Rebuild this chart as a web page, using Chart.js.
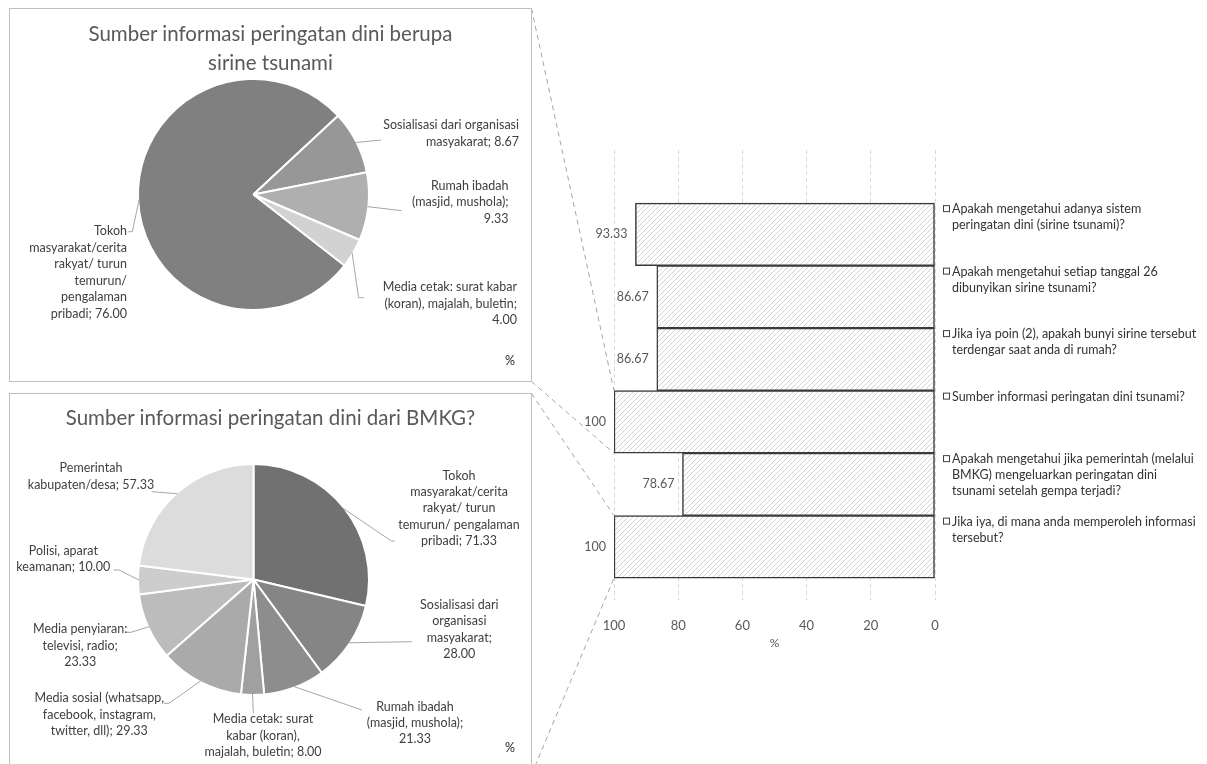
<!DOCTYPE html>
<html>
<head>
<meta charset="utf-8">
<script src="https://cdn.jsdelivr.net/npm/chart.js@4.4.1/dist/chart.umd.min.js"></script>
<style>
html,body{margin:0;padding:0;background:#fff;overflow:hidden;width:1207px;height:764px;}
#barCanvas{position:absolute;left:0;top:0;}
.box{position:absolute;left:9px;width:521px;border:1px solid #bfbfbf;}
#box1{top:8px;height:372px;}
#box2{top:393px;height:380px;}
.box canvas{position:absolute;left:0;top:0;}
.title{position:absolute;left:0;width:100%;text-align:center;font-family:Lato,sans-serif;font-size:20.5px;color:#595959;line-height:29px;}
.pct{position:absolute;font-family:Lato,sans-serif;font-size:12.5px;color:#262626;}
</style>
</head>
<body>
<canvas id="barCanvas" width="1207" height="764"></canvas>
<div class="box" id="box1">
  <canvas id="pie1" width="521" height="372"></canvas>
  <div class="title" style="top:9.5px">Sumber informasi peringatan dini berupa<br>sirine tsunami</div>
  <div class="pct" style="left:495px;top:344px">%</div>
</div>
<div class="box" id="box2">
  <canvas id="pie2" width="521" height="380"></canvas>
  <div class="title" style="top:8.5px">Sumber informasi peringatan dini dari BMKG?</div>
  <div class="pct" style="left:495px;top:346px">%</div>
</div>
<script>
// ---------- DATA ----------
const barQuestions = [
  "Apakah mengetahui adanya sistem\nperingatan dini (sirine tsunami)?",
  "Apakah mengetahui setiap tanggal 26\ndibunyikan sirine tsunami?",
  "Jika iya poin (2), apakah bunyi sirine tersebut\nterdengar saat anda di rumah?",
  "Sumber informasi peringatan dini tsunami?",
  "Apakah mengetahui jika pemerintah (melalui\nBMKG) mengeluarkan peringatan dini\ntsunami setelah gempa terjadi?",
  "Jika iya, di mana anda memperoleh informasi\ntersebut?"
];
const barValues = [93.33, 86.67, 86.67, 100, 78.67, 100];
const xTicks = [0, 20, 40, 60, 80, 100];

const pie1Categories = [
  "Tokoh\nmasyarakat/cerita\nrakyat/ turun\ntemurun/\npengalaman\npribadi",
  "Sosialisasi dari organisasi\nmasyakarat",
  "Rumah ibadah\n(masjid, mushola)",
  "Media cetak: surat kabar\n(koran), majalah, buletin"
];
const pie1Values = [76.00, 8.67, 9.33, 4.00];

const pie2Categories = [
  "Tokoh\nmasyarakat/cerita\nrakyat/ turun\ntemurun/ pengalaman\npribadi",
  "Sosialisasi dari\norganisasi\nmasyakarat",
  "Rumah ibadah\n(masjid, mushola)",
  "Media cetak: surat\nkabar (koran),\nmajalah, buletin",
  "Media sosial (whatsapp,\nfacebook, instagram,\ntwitter, dll)",
  "Media penyiaran:\ntelevisi, radio",
  "Polisi, aparat\nkeamanan",
  "Pemerintah\nkabupaten/desa"
];
const pie2Values = [71.33, 28.00, 21.33, 8.00, 29.33, 23.33, 10.00, 57.33];

// ---------- STYLE / LAYOUT ----------
Chart.defaults.font.family = "Lato, sans-serif";
const pie1Colors = ['#808080', '#979797', '#afafaf', '#d2d2d2'];
const pie2Colors = ['#717171', '#858585', '#8d8d8d', '#a0a0a0', '#aaaaaa', '#bcbcbc', '#cdcdcd', '#dcdcdc'];

// label anchors relative to pie centre (dx, dy of first line), leader bend points
const pie1Layout = [
  {align:'right', dx:-126.5, dy:36.5, br:false, leader:[[-121.2,37.2],[-125.2,37.2]]},
  {align:'right', dx:265.5, dy:-69.5, br:false, leader:[[127.5,-54.5]]},
  {align:'right', dx:255, dy:-8.8, br:true, leader:[[148.2,16.2]]},
  {align:'right', dx:263.5, dy:92.8, br:true, leader:[[105.1,103.2],[110.3,103.2]]}
];
const pie2Layout = [
  {align:'center', dx:205.5, dy:-103.8, br:false, leader:[[137.9,-38.5],[141.3,-38.5]]},
  {align:'center', dx:205.8, dy:25.5, br:true, leader:[[158.5,62.2]]},
  {align:'center', dx:161.5, dy:127.2, br:true, leader:[[108.5,130.5]]},
  {align:'center', dx:9.5, dy:139.8, br:false, leader:[[-0.1,133.8]]},
  {align:'center', dx:-154.2, dy:118.8, br:false, leader:[[-84.5,123.8],[-89.7,123.8]]},
  {align:'center', dx:-173.3, dy:49.8, br:true, leader:[[-122.5,52.8],[-127.5,52.8]]},
  {align:'center', dx:-190.2, dy:-28.8, br:false, leader:[[-134.5,-9.5],[-139.7,-9.5]]},
  {align:'center', dx:-162.5, dy:-111.2, br:false, leader:[[-101.8,-87.8]]}
];

function pieLabelPlugin(cats, vals, layout, lh){
  return {
    id:'pieLabels',
    afterDraw(chart){
      const ctx = chart.ctx;
      const meta = chart.getDatasetMeta(0);
      ctx.save();
      meta.data.forEach((arc, i) => {
        const L = layout[i];
        const cx = arc.x, cy = arc.y, r = arc.outerRadius;
        const mid = (arc.startAngle + arc.endAngle) / 2;
        ctx.strokeStyle = '#a6a6a6';
        ctx.lineWidth = 1;
        ctx.beginPath();
        ctx.moveTo(cx + Math.cos(mid) * (r - 1), cy + Math.sin(mid) * (r - 1));
        L.leader.forEach(p => ctx.lineTo(cx + p[0], cy + p[1]));
        ctx.stroke();
        const text = cats[i] + ';' + (L.br ? '\n' : ' ') + vals[i].toFixed(2);
        ctx.fillStyle = '#404040';
        ctx.font = '12.5px Lato, sans-serif';
        ctx.textAlign = L.align;
        ctx.textBaseline = 'middle';
        text.split('\n').forEach((s, k) => ctx.fillText(s, cx + L.dx, cy + L.dy + k * lh));
      });
      ctx.restore();
    }
  };
}

function makePie(id, cats, vals, colors, rotation, layout, lh, bottomPad){
  new Chart(document.getElementById(id), {
    type: 'pie',
    data: { labels: cats, datasets: [{ data: vals, backgroundColor: colors, borderColor: '#ffffff', borderWidth: 2, radius: 115.5 }] },
    options: {
      responsive: false, animation: false, rotation: rotation,
      layout: { padding: { left: 128, right: 162, top: 70, bottom: bottomPad } },
      plugins: { legend: { display: false }, tooltip: { enabled: false } }
    },
    plugins: [pieLabelPlugin(cats, vals, layout, lh)]
  });
}

makePie('pie1', pie1Categories, pie1Values, pie1Colors, 127.9, pie1Layout, 16.5, 71);
makePie('pie2', pie2Categories, pie2Values, pie2Colors, 0, pie2Layout, 16.3, 79);

// ---------- BAR CHART ----------
function hatchPattern(){
  const c = document.createElement('canvas');
  c.width = 5; c.height = 5;
  const x = c.getContext('2d');
  x.fillStyle = '#ffffff'; x.fillRect(0, 0, 5, 5);
  x.strokeStyle = '#d2d2d2'; x.lineWidth = 1;
  x.beginPath();
  x.moveTo(0, 5); x.lineTo(5, 0);
  x.moveTo(-1, 1); x.lineTo(1, -1);
  x.moveTo(4, 6); x.lineTo(6, 4);
  x.stroke();
  return x.createPattern(c, 'repeat');
}

const barLabelsPlugin = {
  id: 'barLabels',
  afterDatasetsDraw(chart){
    const ctx = chart.ctx;
    const meta = chart.getDatasetMeta(0);
    const area = chart.chartArea;
    ctx.save();
    meta.data.forEach((bar, i) => {
      const left = Math.min(bar.x, bar.base);
      const top = bar.y - bar.height / 2;
      ctx.font = '12.5px Lato, sans-serif';
      ctx.fillStyle = '#595959';
      ctx.textAlign = 'right';
      ctx.textBaseline = 'middle';
      ctx.fillText(String(barValues[i]), left - 8, bar.y);
      ctx.strokeStyle = '#404040';
      ctx.lineWidth = 1;
      ctx.strokeRect(area.right + 8.5, top + 2.5, 6, 6);
      ctx.fillStyle = '#333333';
      ctx.textAlign = 'left';
      ctx.font = '12.5px Lato, sans-serif';
      barQuestions[i].split('\n').forEach((s, k) => ctx.fillText(s, area.right + 17, top + 6 + k * 16));
    });
    ctx.restore();
  },
  afterDraw(chart){
    const ctx = chart.ctx;
    const meta = chart.getDatasetMeta(0);
    const links = [['box1', 3], ['box2', 5]];
    ctx.save();
    ctx.strokeStyle = '#a6a6a6';
    ctx.lineWidth = 1;
    ctx.setLineDash([5, 4]);
    links.forEach(([id, idx]) => {
      const r = document.getElementById(id).getBoundingClientRect();
      const bar = meta.data[idx];
      const bx = Math.min(bar.x, bar.base);
      const bt = bar.y - bar.height / 2, bb = bar.y + bar.height / 2;
      const rx = r.right - 0.5;
      ctx.beginPath();
      ctx.moveTo(rx, r.top + 0.5); ctx.lineTo(bx, bt);
      ctx.moveTo(rx, r.bottom - 0.5); ctx.lineTo(bx, bb);
      ctx.stroke();
    });
    ctx.restore();
  }
};

new Chart(document.getElementById('barCanvas'), {
  type: 'bar',
  data: {
    labels: barQuestions,
    datasets: [{
      data: barValues.map((v, i) => ({ x: v, y: i })),
      backgroundColor: hatchPattern(),
      borderColor: '#3a3a3a',
      borderWidth: 1.5,
      borderSkipped: false,
      categoryPercentage: 1,
      barPercentage: 1
    }]
  },
  options: {
    indexAxis: 'y',
    responsive: false,
    animation: false,
    layout: { padding: { left: 614, right: 272, top: 150, bottom: 114 } },
    plugins: { legend: { display: false }, tooltip: { enabled: false } },
    scales: {
      x: {
        type: 'linear', min: 0, max: 100, reverse: true,
        afterBuildTicks: (s) => { s.ticks = xTicks.map(v => ({ value: v })); },
        ticks: { padding: 18, color: '#595959', font: { size: 13 } },
        grid: { color: '#d9d9d9', drawTicks: false, lineWidth: 1 },
        border: { display: false, dash: [4, 3] },
        title: { display: true, text: '%', color: '#595959', font: { size: 12 }, padding: { top: -16, bottom: 0 } }
      },
      y: {
        type: 'linear', reverse: true, min: -1.35, max: 5.85, display: false, offset: false, bounds: 'data',
        grid: { offset: false },
        afterBuildTicks: (s) => { s.ticks = barValues.map((v, i) => ({ value: i })); }
      }
    }
  },
  plugins: [barLabelsPlugin]
});
</script>
</body>
</html>
